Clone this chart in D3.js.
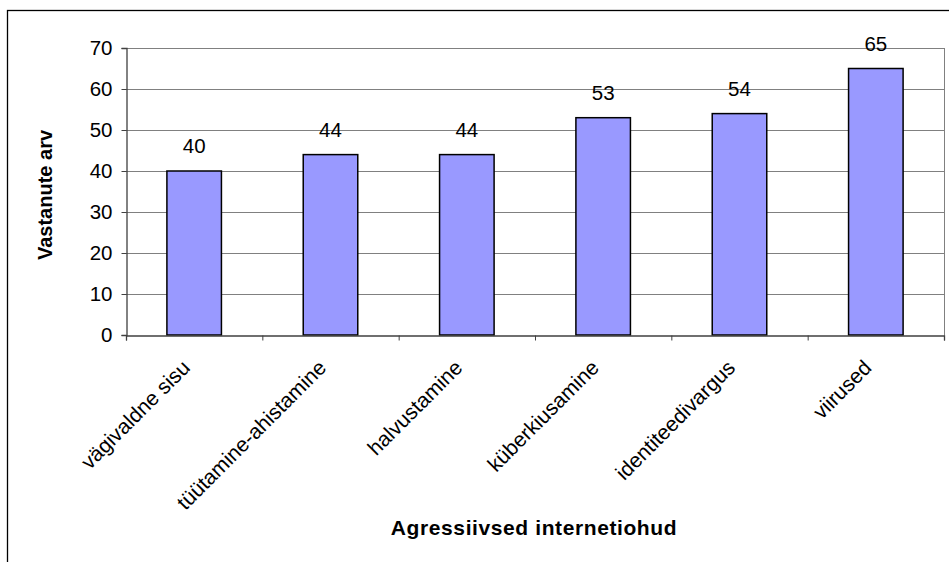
<!DOCTYPE html>
<html>
<head>
<meta charset="utf-8">
<script src="https://cdn.jsdelivr.net/npm/d3@7"></script>
<style>
  body { margin: 0; background: #fff; }
  text { font-family: Arial, "Liberation Sans", sans-serif; fill: #000; }
</style>
</head>
<body>
<div id="chart"></div>
<script>
// andmed
const categories = ['vägivaldne sisu', 'tüütamine-ahistamine', 'halvustamine', 'küberkiusamine', 'identiteedivargus', 'viirused']
const values = [40, 44, 44, 53, 54, 65]
const yTicks = [0, 10, 20, 30, 40, 50, 60, 70]

const width = 949
const height = 562
const plot = {left: 126, right: 944, top: 48, bottom: 335}

const svg = d3.select('#chart')
  .append('svg')
  .attr('width', width)
  .attr('height', height)

// chart area frame (runs off the picture on right and bottom)
svg.append('rect')
  .attr('x', 7.5)
  .attr('y', 10.5)
  .attr('width', 1000)
  .attr('height', 700)
  .style('fill', 'none')
  .style('stroke', '#000')
  .style('stroke-width', 1.3)

const x = d3.scaleBand()
  .domain(categories)
  .range([plot.left, plot.right])
  .paddingInner(0.6)
  .paddingOuter(0.3)

const xTickScale = d3.scaleLinear()
  .domain([0, categories.length])
  .range([plot.left, plot.right])

const y = d3.scaleLinear()
  .domain([0, 70])
  .range([plot.bottom, plot.top])

// gridlines
svg.append('g')
  .selectAll('line')
  .data(yTicks.filter(d => d > 0))
  .enter()
  .append('line')
  .attr('x1', plot.left)
  .attr('x2', plot.right)
  .attr('y1', d => Math.round(y(d)) + 0.5)
  .attr('y2', d => Math.round(y(d)) + 0.5)
  .style('stroke', '#808080')
  .style('stroke-width', 1)

// right side of plot area
svg.append('line')
  .attr('x1', plot.right + 0.5)
  .attr('x2', plot.right + 0.5)
  .attr('y1', plot.top)
  .attr('y2', plot.bottom)
  .style('stroke', '#808080')

// bars
svg.append('g')
  .selectAll('rect')
  .data(values)
  .enter()
  .append('rect')
  .attr('x', (d, i) => x(categories[i]))
  .attr('y', d => y(d))
  .attr('width', x.bandwidth())
  .attr('height', d => y(0) - y(d))
  .style('fill', '#9999FF')
  .style('stroke', '#000')
  .style('stroke-width', 1.5)

// value labels
svg.append('g')
  .selectAll('text')
  .data(values)
  .enter()
  .append('text')
  .attr('x', (d, i) => x(categories[i]) + x.bandwidth() / 2)
  .attr('y', d => y(d) - 18)
  .attr('text-anchor', 'middle')
  .style('font-size', '20.5px')
  .text(d => d)

// y axis
const yAxis = svg.append('g')
  .attr('transform', `translate(${plot.left + 0.5},0)`)
  .call(d3.axisLeft(y).tickValues(yTicks).tickSize(5).tickPadding(9))
yAxis.select('.domain').style('stroke', '#404040').style('stroke-width', 1.3)
yAxis.selectAll('.tick line').style('stroke', '#404040')
yAxis.selectAll('text').style('font-size', '20.5px').style('font-family', 'Arial, "Liberation Sans", sans-serif')

// x axis
const xAxis = svg.append('g')
  .attr('transform', `translate(0,${plot.bottom + 0.5})`)
  .call(d3.axisBottom(xTickScale).ticks(categories.length).tickSize(5).tickFormat(''))
xAxis.select('.domain').style('stroke', '#404040').style('stroke-width', 1.3)
xAxis.selectAll('.tick line').style('stroke', '#404040')

// category labels
svg.append('g')
  .selectAll('text')
  .data(categories)
  .enter()
  .append('text')
  .attr('transform', d => `translate(${x(d) + x.bandwidth() / 2 - 3},${plot.bottom + 34}) rotate(-45)`)
  .attr('text-anchor', 'end')
  .style('font-size', '21px')
  .text(d => d)

// axis titles
svg.append('text')
  .attr('transform', `translate(52,195) rotate(-90)`)
  .attr('text-anchor', 'middle')
  .style('font-size', '20px')
  .style('font-weight', 'bold')
  .text('Vastanute arv')

svg.append('text')
  .attr('x', 534)
  .attr('y', 535)
  .attr('text-anchor', 'middle')
  .style('font-size', '21px')
  .style('font-weight', 'bold')
  .style('letter-spacing', '0.6px')
  .text('Agressiivsed internetiohud')
</script>
</body>
</html>
